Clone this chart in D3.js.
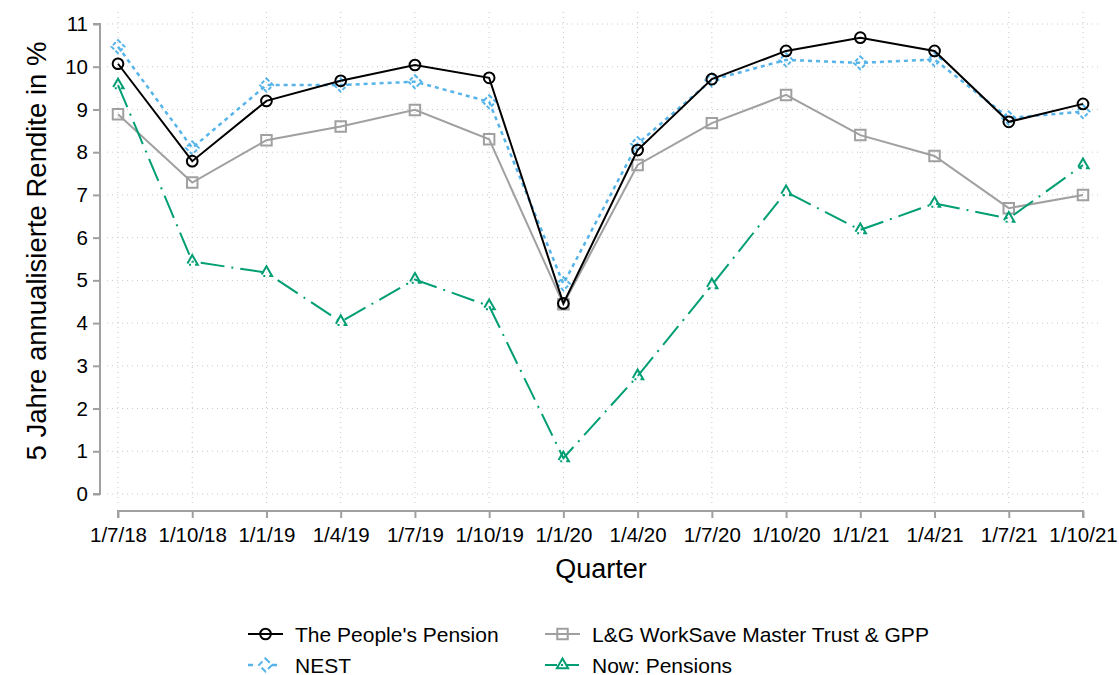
<!DOCTYPE html>
<html>
<head>
<meta charset="utf-8">
<script src="https://cdn.jsdelivr.net/npm/d3@7"></script>
<style>
body { margin: 0; background: #fff; }
text { font-family: "Liberation Sans", Arial, sans-serif; fill: #000; }
</style>
</head>
<body>
<script>
// quarters and returns (in %)
var quarters = ["1/7/18", "1/10/18", "1/1/19", "1/4/19", "1/7/19", "1/10/19", "1/1/20",
                "1/4/20", "1/7/20", "1/10/20", "1/1/21", "1/4/21", "1/7/21", "1/10/21"];
var peoples = [10.07, 7.79, 9.2, 9.67, 10.04, 9.74, 4.46, 8.05, 9.71, 10.37, 10.68, 10.37, 8.71, 9.13];
var nest    = [10.47, 8.1, 9.57, 9.57, 9.65, 9.18, 4.92, 8.2, 9.69, 10.16, 10.09, 10.17, 8.8, 8.95];
var lg      = [8.89, 7.29, 8.28, 8.6, 8.99, 8.3, 4.44, 7.7, 8.68, 9.34, 8.4, 7.91, 6.69, 7.0];
var nowp    = [9.57, 5.44, 5.18, 4.03, 5.02, 4.4, 0.84, 2.76, 4.89, 7.07, 6.18, 6.8, 6.45, 7.7];
var yTicks = [0, 1, 2, 3, 4, 5, 6, 7, 8, 9, 10, 11];

var width = 1119, height = 675;

var svg = d3.select("body").append("svg")
    .attr("width", width)
    .attr("height", height);

var x = d3.scalePoint()
    .domain(quarters)
    .range([118, 1083]);

var y = d3.scaleLinear()
    .domain([0, 11])
    .range([494, 24]);

// grid
svg.selectAll(".hgrid")
    .data(yTicks)
    .enter()
    .append("line")
    .attr("x1", 107).attr("x2", 1098)
    .attr("y1", function(d) { return y(d); })
    .attr("y2", function(d) { return y(d); })
    .attr("stroke", "#c8c8c8")
    .attr("stroke-width", 1)
    .attr("stroke-dasharray", "1,4");

svg.selectAll(".vgrid")
    .data(quarters)
    .enter()
    .append("line")
    .attr("x1", function(d) { return x(d); })
    .attr("x2", function(d) { return x(d); })
    .attr("y1", 12).attr("y2", 506)
    .attr("stroke", "#c8c8c8")
    .attr("stroke-width", 1)
    .attr("stroke-dasharray", "1,4");

// axes
var yAxis = svg.append("g")
    .attr("transform", "translate(100,0)")
    .call(d3.axisLeft(y).tickValues(yTicks).tickSize(7).tickPadding(5));

var xAxis = svg.append("g")
    .attr("transform", "translate(0,511)")
    .call(d3.axisBottom(x).tickSize(7).tickPadding(9));

svg.selectAll(".domain, .tick line")
    .attr("stroke", "#a0a0a0")
    .attr("stroke-width", 2);
svg.selectAll(".tick text")
    .style("font-family", "Liberation Sans, Arial, sans-serif")
    .style("font-size", "20.5px")
    .attr("fill", "#000");
yAxis.select(".domain").attr("d", "M-7," + y(11) + "H0V" + y(0) + "H-7");
xAxis.select(".domain").attr("d", "M118,7V0H1083V7");

// axis titles
svg.append("text")
    .attr("x", 601).attr("y", 578)
    .attr("text-anchor", "middle")
    .style("font-size", "27px")
    .text("Quarter");

svg.append("text")
    .attr("transform", "translate(46,251) rotate(-90)")
    .attr("text-anchor", "middle")
    .style("font-size", "27.5px")
    .text("5 Jahre annualisierte Rendite in %");

// series
var series = [
    { name: "The People's Pension", values: peoples, color: "#000000", dash: null, width: 2, marker: "circle" },
    { name: "L&G WorkSave Master Trust & GPP", values: lg, color: "#a0a0a0", dash: null, width: 2, marker: "square" },
    { name: "NEST", values: nest, color: "#56b4e9", dash: "4,4", width: 2.5, marker: "diamond" },
    { name: "Now: Pensions", values: nowp, color: "#009e73", dash: "24,7,2,7", width: 2, marker: "triangle" }
];

var symbols = {
    circle: d3.symbol().type(d3.symbolCircle).size(90),
    square: d3.symbol().type(d3.symbolSquare).size(110),
    diamond: d3.symbol().type(d3.symbolDiamond2 || d3.symbolDiamond).size(110),
    triangle: d3.symbol().type(d3.symbolTriangle2 || d3.symbolTriangle).size(90)
};

var line = d3.line()
    .x(function(d, i) { return x(quarters[i]); })
    .y(function(d) { return y(d); });

var drawOrder = [series[1], series[3], series[2], series[0]];

drawOrder.forEach(function(s) {
    svg.append("path")
        .datum(s.values)
        .attr("d", line)
        .attr("fill", "none")
        .attr("stroke", s.color)
        .attr("stroke-width", s.width)
        .attr("stroke-dasharray", s.dash);

    svg.selectAll(null)
        .data(s.values)
        .enter()
        .append("path")
        .attr("d", symbols[s.marker])
        .attr("transform", function(d, i) { return "translate(" + x(quarters[i]) + "," + y(d) + ")"; })
        .attr("fill", "none")
        .attr("stroke", s.color)
        .attr("stroke-width", 2)
        .attr("stroke-dasharray", s.dash ? (s.marker == "diamond" ? "4,2" : "14,4,2,4") : null);
});

// legend
var legendPos = [
    { s: series[0], x: 248, y: 634 },
    { s: series[1], x: 545, y: 634 },
    { s: series[2], x: 248, y: 665 },
    { s: series[3], x: 545, y: 665 }
];

legendPos.forEach(function(l) {
    var g = svg.append("g").attr("transform", "translate(" + l.x + "," + l.y + ")");
    g.append("line")
        .attr("x1", 0).attr("x2", 35)
        .attr("stroke", l.s.color)
        .attr("stroke-width", l.s.width)
        .attr("stroke-dasharray", l.s.marker == "diamond" ? "5,7" : (l.s.marker == "triangle" ? "12,4,2,4" : null));
    g.append("path")
        .attr("d", symbols[l.s.marker])
        .attr("transform", "translate(17.5,0)")
        .attr("fill", l.s.marker == "diamond" ? "#fff" : "none")
        .attr("stroke", l.s.color)
        .attr("stroke-width", 2)
        .attr("stroke-dasharray", l.s.marker == "diamond" ? "6,3" : null);
    g.append("text")
        .attr("x", 47).attr("y", 7.5)
        .style("font-size", "21px")
        .text(l.s.name);
});
</script>
</body>
</html>
